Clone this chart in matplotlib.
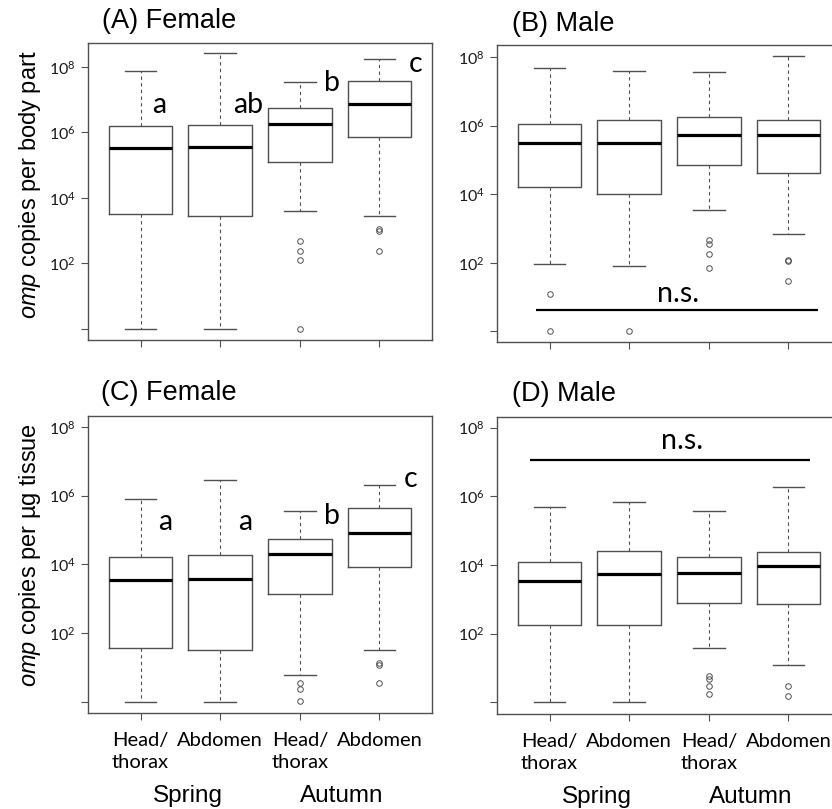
import matplotlib
matplotlib.use("Agg")
import matplotlib.pyplot as plt
import numpy as np

plt.rcParams['font.family'] = ['Liberation Sans', 'DejaVu Sans']
plt.rcParams['mathtext.fontset'] = 'custom'
plt.rcParams['mathtext.it'] = 'Liberation Sans:italic'
plt.rcParams['mathtext.rm'] = 'Liberation Sans'

# values are log10(copies)
groups = ['Head/\nthorax', 'Abdomen', 'Head/\nthorax', 'Abdomen']
seasons = ['Spring', 'Autumn']

A_whislo = [0.0, 0.0, 3.59, 3.45]
A_q1 = [3.52, 3.46, 5.09, 5.87]
A_med = [5.53, 5.54, 6.26, 6.88]
A_q3 = [6.20, 6.22, 6.73, 7.58]
A_whishi = [7.88, 8.42, 7.54, 8.25]
A_fliers = [[], [], [2.69, 2.39, 2.09, 0.0], [3.05, 3.00, 2.39]]
A_letters = ['a', 'ab', 'b', 'c']

B_whislo = [1.96, 1.90, 3.54, 2.84]
B_q1 = [4.21, 4.02, 4.86, 4.62]
B_med = [5.50, 5.50, 5.73, 5.73]
B_q3 = [6.05, 6.17, 6.24, 6.17]
B_whishi = [7.68, 7.60, 7.56, 8.03]
B_fliers = [[1.09, 0.0], [0.0], [2.66, 2.55, 2.26, 1.84], [2.07, 2.05, 1.48]]

C_whislo = [0.0, 0.0, 0.77, 1.51]
C_q1 = [1.57, 1.51, 3.13, 3.92]
C_med = [3.55, 3.57, 4.29, 4.92]
C_q3 = [4.22, 4.28, 4.73, 5.63]
C_whishi = [5.89, 6.45, 5.54, 6.31]
C_fliers = [[], [], [0.54, 0.37, 0.02], [1.12, 1.07, 0.54]]
C_letters = ['a', 'a', 'b', 'c']

D_whislo = [0.0, 0.0, 1.58, 1.10]
D_q1 = [2.24, 2.26, 2.89, 2.86]
D_med = [3.54, 3.74, 3.77, 3.97]
D_q3 = [4.08, 4.42, 4.24, 4.39]
D_whishi = [5.70, 5.83, 5.57, 6.26]
D_fliers = [[], [], [0.78, 0.69, 0.48, 0.24], [0.47, 0.17]]

W, H = 832, 809
fig = plt.figure(figsize=(W / 100, H / 100), dpi=100)
GRAY = '#505050'


def add_axes(left, top, right, bottom):
    return fig.add_axes([left / W, 1 - bottom / H, (right - left) / W, (bottom - top) / H])


def panel(ax, whislo, q1, med, q3, whishi, fliers, ylim, xlabels=False):
    stats = []
    for i in range(4):
        stats.append(dict(whislo=10 ** whislo[i], q1=10 ** q1[i], med=10 ** med[i],
                          q3=10 ** q3[i], whishi=10 ** whishi[i],
                          fliers=10 ** np.array(fliers[i])))
    ax.bxp(stats, positions=[1, 2, 3, 4], widths=0.8, capwidths=0.4,
           boxprops=dict(color=GRAY, lw=1.0),
           medianprops=dict(color='black', lw=2.3),
           whiskerprops=dict(color=GRAY, lw=0.8, linestyle=(0, (3, 3))),
           capprops=dict(color=GRAY, lw=1.0),
           flierprops=dict(marker='o', markersize=4, markerfacecolor='none',
                           markeredgecolor=GRAY, markeredgewidth=0.7))
    ax.set_yscale('log')
    ax.set_ylim(10 ** ylim[0], 10 ** ylim[1])
    ax.set_xlim(0.34, 4.66)
    ax.minorticks_off()
    ax.set_yticks([1, 1e2, 1e4, 1e6, 1e8])
    ax.set_yticklabels(['', r'$\mathregular{10^{2}}$', r'$\mathregular{10^{4}}$',
                        r'$\mathregular{10^{6}}$', r'$\mathregular{10^{8}}$'],
                       fontfamily='Lato', fontsize=11.5, color='#1a1a1a')
    ax.set_xticks([1, 2, 3, 4])
    if xlabels:
        ax.set_xticklabels(groups, fontfamily='Lato', fontsize=14.5, linespacing=1.3,
                           va='top', ha='center', multialignment='center')
    else:
        ax.set_xticklabels([])
    ax.tick_params(direction='out', length=5, width=0.8, color=GRAY, pad=4)
    ax.tick_params(axis='x', pad=9)
    for s in ax.spines.values():
        s.set_color(GRAY)
        s.set_linewidth(1.0)
    if xlabels:
        tr = ax.get_xaxis_transform()
        ax.text(1.59, -0.30, seasons[0], transform=tr, fontsize=17.5, ha='center', va='baseline')
        ax.text(3.53, -0.30, seasons[1], transform=tr, fontsize=17.5, ha='center', va='baseline')


def letters(ax, labels, xs, ys):
    for lab, x, y in zip(labels, xs, ys):
        ax.text(x, 10 ** y, lab, fontfamily='Lato', fontsize=20.5, ha='left', va='baseline')


axA = add_axes(88, 43, 432, 340)
panel(axA, A_whislo, A_q1, A_med, A_q3, A_whishi, A_fliers, (-0.34, 8.73))
letters(axA, A_letters, [1.15, 2.16, 3.31, 4.37], [6.59, 6.59, 7.25, 7.85])

axB = add_axes(497, 45, 841, 342)
panel(axB, B_whislo, B_q1, B_med, B_q3, B_whishi, B_fliers, (-0.31, 8.35))
axB.hlines(10 ** 0.63, 0.83, 4.37, color='black', lw=1.6)
axB.text(2.61, 10 ** 0.86, 'n.s.', fontfamily='Lato', fontsize=20.5, ha='center', va='baseline')

axC = add_axes(88, 416, 432, 713)
panel(axC, C_whislo, C_q1, C_med, C_q3, C_whishi, C_fliers, (-0.33, 8.32), xlabels=True)
letters(axC, C_letters, [1.22, 2.22, 3.31, 4.31], [5.0, 5.0, 5.17, 6.26])

axD = add_axes(497, 417, 841, 714)
panel(axD, D_whislo, D_q1, D_med, D_q3, D_whishi, D_fliers, (-0.34, 8.31), xlabels=True)
axD.hlines(10 ** 7.06, 0.75, 4.27, color='black', lw=1.6)
axD.text(2.66, 10 ** 7.37, 'n.s.', fontfamily='Lato', fontsize=20.5, ha='center', va='baseline')

# panel titles
for txt, x, y in [('(A) Female', 102, 28), ('(B) Male', 512, 31),
                  ('(C) Female', 101, 400), ('(D) Male', 512, 401)]:
    fig.text(x / W, 1 - y / H, txt, fontsize=19.5, ha='left', va='baseline')

fig.text(30 / W, 1 - 185 / H, r'$\mathit{omp}$ copies per body part', fontsize=17,
         rotation=90, ha='center', va='center')
fig.text(30 / W, 1 - 555 / H, r'$\mathit{omp}$ copies per µg tissue', fontsize=17,
         rotation=90, ha='center', va='center')

fig.savefig('out.png', dpi=100)
